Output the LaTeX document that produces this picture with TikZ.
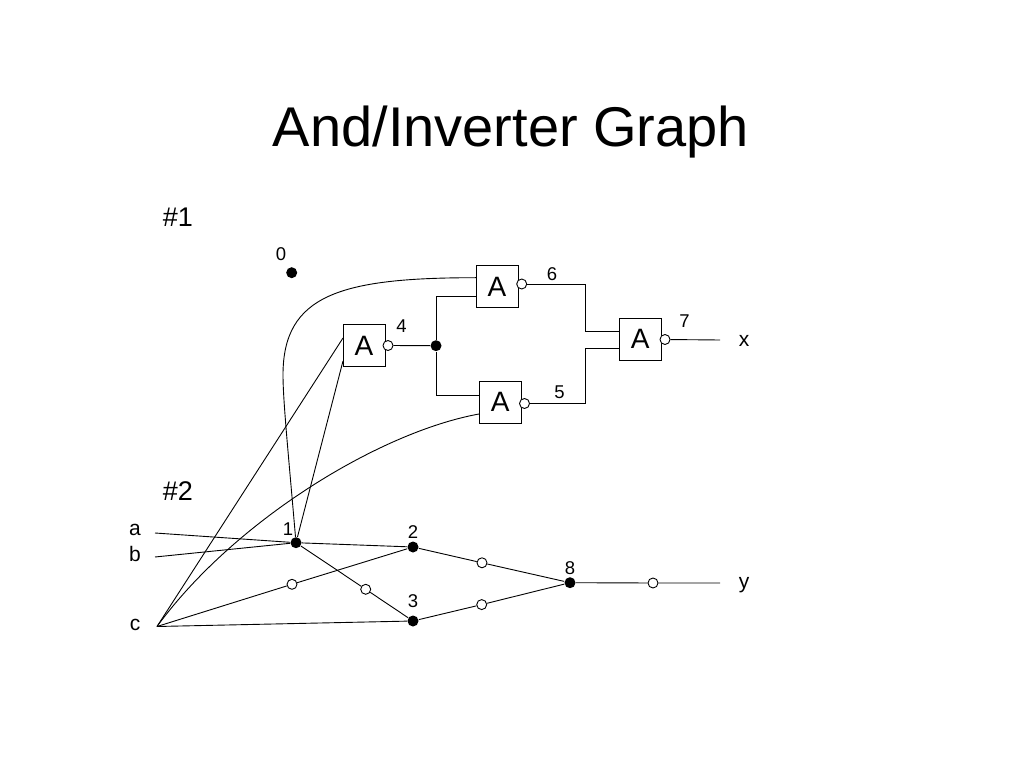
\documentclass[tikz,border=0pt]{standalone}
\usepackage{fontspec}
\setmainfont{Liberation Sans}
\begin{document}
\begin{tikzpicture}[x=1pt,y=-1pt,line width=0.9pt,
  gate/.style={draw,minimum width=42pt,minimum height=42pt,inner sep=0pt,font=\fontsize{28}{30}\selectfont},
  bub/.style={circle,draw,fill=white,minimum size=10pt,inner sep=0pt},
  jdot/.style={circle,fill=black,minimum size=11pt,inner sep=0pt},
  lbl/.style={anchor=base,inner sep=0pt,font=\fontsize{18.5}{20}\selectfont},
  sig/.style={anchor=base,inner sep=0pt,font=\fontsize{21}{24}\selectfont},
  hdr/.style={anchor=base,inner sep=0pt,font=\fontsize{27}{30}\selectfont}]
\useasboundingbox (0,0) rectangle (1023,767);
% title
\node[anchor=base,inner sep=0pt,font=\fontsize{56}{60}\selectfont] (title) at (511,147) {And/Inverter Graph};
\node[hdr] (h1) at (178,227) {\#1};
\node[hdr] (h2) at (178,500) {\#2};
% gates
\node[gate] (g4) at (364,345.7) {A};
\node[gate] (g6) at (497,286.7) {A};
\node[gate] (g5) at (500.3,402.2) {A};
\node[gate] (g7) at (640.3,339) {A};
\node[bub] (b4) at (388,345.5) {};
\node[bub] (b6) at (521.7,284) {};
\node[bub] (b5) at (524.5,403.5) {};
\node[bub] (b7) at (665,339.5) {};
\node[jdot] (J) at (436,345.7) {};
\node[jdot] (n0) at (291.7,272.7) {};
% port coordinates
\coordinate (g4i1) at (343,338);
\coordinate (g4i2) at (343,361);
\coordinate (g6i1) at (476,277.7);
\coordinate (g6i2) at (476,296.7);
\coordinate (g5i1) at (479,395.7);
\coordinate (g5i2) at (479,414);
\coordinate (g7i1) at (619,331);
\coordinate (g7i2) at (619,348);
\coordinate (xo) at (720,340);
% labels top
\node[lbl] (l0) at (281,261) {0};
\node[lbl] (l4) at (401.5,333) {4};
\node[lbl] (l6) at (552,281) {6};
\node[lbl] (l5) at (559.5,399) {5};
\node[lbl] (l7) at (684.5,328) {7};
\node[sig] (lx) at (744,346) {x};
% bottom nodes
\node[jdot] (n1) at (296,542.7) {};
\node[jdot] (n2) at (413,547) {};
\node[jdot] (n3) at (413,621) {};
\node[jdot] (n8) at (570,582.7) {};
\coordinate (c) at (157,626.5);
\coordinate (ain) at (155,533);
\coordinate (bin) at (155,557);
\coordinate (yo) at (720,583);
\node[bub] (i2) at (292,584.3) {};
\node[bub] (i13) at (365.7,589.3) {};
\node[bub] (i28) at (482,562.8) {};
\node[bub] (i38) at (481.7,604.6) {};
\node[bub] (io) at (653,583) {};
\node[sig] (la) at (135,535) {a};
\node[sig] (lb) at (135,561) {b};
\node[sig] (lc) at (135,630) {c};
\node[lbl] (l1) at (288,535) {1};
\node[lbl] (l2) at (413,538) {2};
\node[lbl] (l3) at (413,607) {3};
\node[lbl] (l8) at (570,574) {8};
\node[sig] (ly) at (744,588) {y};
% top connectors
\draw (b4) -- (J);
\draw (g6i2) -| (J);
\draw (g5i1) -| (J);
\draw (b6) -| ([xshift=-34pt]g7i1) -- (g7i1);
\draw (b5) -| ([xshift=-34pt]g7i2) -- (g7i2);
\draw (b7) -- (xo);
\draw (n1) .. controls (288,450) and (283,400) .. (283,375)
      .. controls (283,295) and (340,277.7) .. (g6i1);
\draw (n1) -- (g4i2);
\draw (c) -- (g4i1);
\draw (c) .. controls (235,520) and (380,432) .. (g5i2);
% bottom connectors
\draw (ain) -- (n1);
\draw (bin) -- (n1);
\draw (n1) -- (n2);
\draw (n1) -- (i13) -- (n3);
\draw (c) -- (i2) -- (n2);
\draw (c) -- (n3);
\draw (n2) -- (i28) -- (n8);
\draw (n3) -- (i38) -- (n8);
\draw (n8) -- (io) -- (yo);
\end{tikzpicture}
\end{document}
